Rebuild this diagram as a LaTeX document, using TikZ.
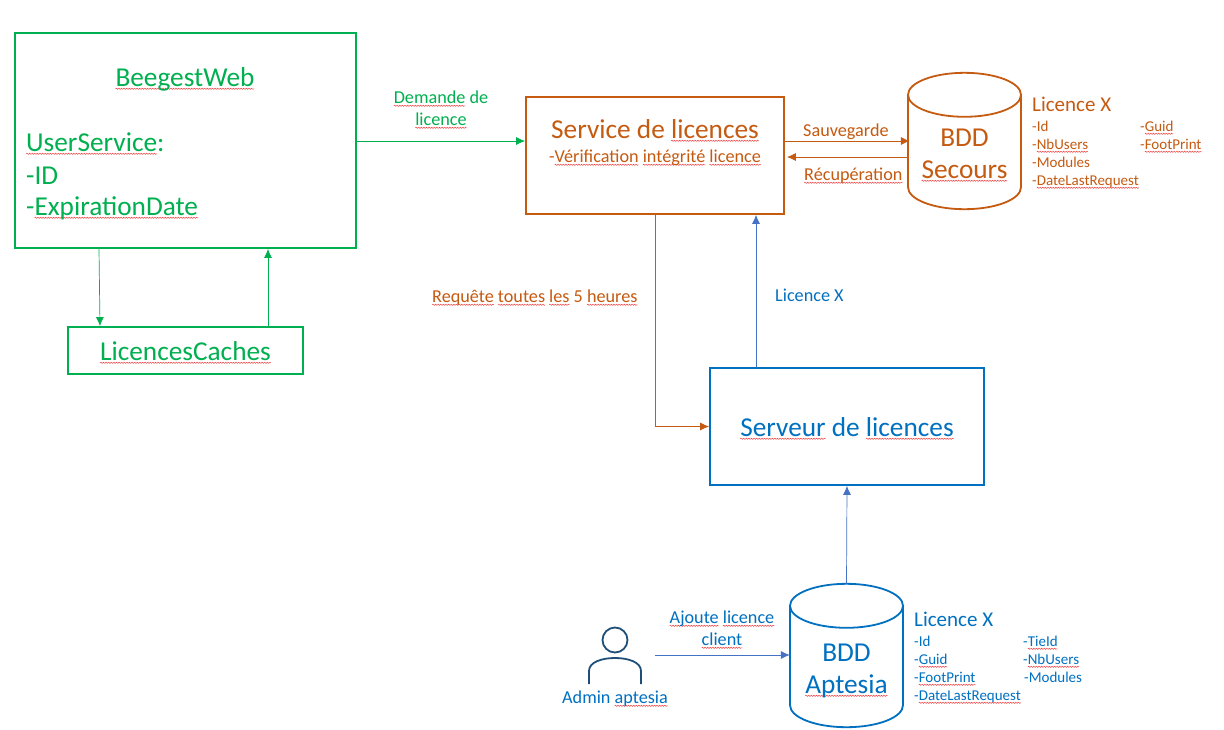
\documentclass[tikz,border=0pt]{standalone}
\usepackage{fontspec}
\setmainfont{Carlito}
\usetikzlibrary{shapes.geometric,arrows.meta,decorations.pathmorphing,calc}
\definecolor{cgreen}{HTML}{00B050}
\definecolor{corange}{HTML}{C55A11}
\definecolor{cblue}{HTML}{0070C0}
\definecolor{carrow}{HTML}{4472C4}
\definecolor{cdark}{HTML}{1F4E79}
\definecolor{cwave}{HTML}{F04040}
\newcommand{\sq}[1]{\leavevmode\setbox0=\hbox{#1}\rlap{\begin{tikzpicture}[overlay,x=1pt,y=1pt]\draw[cwave,line width=0.5pt,decorate,decoration={snake,amplitude=0.6pt,segment length=2.6pt}] (0,-2.8)--(\the\wd0,-2.8);\end{tikzpicture}}\box0}
\newcommand{\fsz}[1]{\fontsize{#1}{#1}\selectfont}
\newcommand{\dbshape}[2]{%
 \draw[dbline,#2] ($(#1.north)+(0,22)$) ellipse [x radius=56.5,y radius=22];
 \draw[dbline,#2] ($(#1.north)+(-56.5,22)$) -- ($(#1.south)+(-56.5,-22)$)
   .. controls ($(#1.south)+(-56.5,-9.85)$) and ($(#1.south)+(-31.2,0)$) .. (#1.south)
   .. controls ($(#1.south)+(31.2,0)$) and ($(#1.south)+(56.5,-9.85)$) .. ($(#1.south)+(56.5,-22)$)
   -- ($(#1.north)+(56.5,22)$);}
\tikzset{
 x=1pt,y=-1pt,
 box/.style={draw,rectangle,line width=1.8pt,inner sep=0pt},
 dbbox/.style={rectangle,inner sep=0pt,minimum width=113pt},
 dbline/.style={line width=1.8pt},
 txt/.style={inner sep=0pt,anchor=base west},
 ctxt/.style={inner sep=0pt,anchor=base},
 link/.style={line width=0.7pt,-{Latex[length=9pt,width=8pt]}},
 big/.style={font=\fsz{27.3}},
 mid/.style={font=\fsz{18.2}},
 head/.style={font=\fsz{21}},
 small/.style={font=\fsz{15}},
}
\begin{document}
\begin{tikzpicture}
\useasboundingbox[fill=white] (0,0) rectangle (1224,729);
% boxes
\node[box,draw=cgreen,minimum width=341pt,minimum height=215pt] (web) at (185.5,140.5) {};
\node[box,draw=cgreen,minimum width=235pt,minimum height=47pt] (cache) at (185.5,350.5) {};
\node[box,draw=corange,minimum width=258pt,minimum height=117pt] (svc) at (655,155.5) {};
\node[box,draw=cblue,minimum width=274pt,minimum height=117pt] (srv) at (847,426.5) {};
\node[dbbox,minimum height=136pt] (sec) at (964.5,141) {};
\node[dbbox,minimum height=143pt] (apt) at (846.5,655.5) {};
\dbshape{sec}{corange}
\dbshape{apt}{cblue}
% person
\node[draw=cdark,circle,line width=1.8pt,minimum size=25pt,inner sep=0pt] (head) at (615,640) {};
\draw[cdark,line width=1.8pt] (589,684) -- (589,671) .. controls (589,662) and (602,658) .. (615,658) .. controls (628,658) and (641,662) .. (641,671) -- (641,684);
\coordinate (adm) at (655,655);
% green text
\begin{scope}[cgreen]
\node[ctxt,big] (t1) at (185,86) {\sq{BeegestWeb}};
\node[txt,big] (t2) at (26,151) {\sq{UserService}:};
\node[txt,big] (t3) at (26,184) {-ID};
\node[txt,big] (t4) at (26,215) {-\sq{ExpirationDate}};
\node[ctxt,big] (t5) at (185.5,360) {\sq{LicencesCaches}};
\node[ctxt,mid] (t6) at (441,103) {\sq{Demande}\ de};
\node[ctxt,mid] (t8) at (441,125) {\sq{licence}};
\end{scope}
% orange text
\begin{scope}[corange]
\node[ctxt,big] (o1) at (655,138) {Service de \sq{licences}};
\node[ctxt,mid] (o2) at (655,162) {-\sq{Vérification}\ \sq{intégrité}\ \sq{licence}};
\node[txt,mid] (o3) at (803,136) {Sauvegarde};
\node[txt,mid] (o4) at (804,180) {\sq{Récupération}};
\node[ctxt,big] (o5) at (964.5,146) {BDD};
\node[ctxt,big] (o6) at (964.5,178) {\sq{Secours}};
\node[txt,head] (o7) at (1032,111) {Licence X};
\node[txt,small] (o8) at (1032,131) {-Id};
\node[txt,small] (o9) at (1032,149) {-\sq{NbUsers}};
\node[txt,small] (o10) at (1032,167) {-Modules};
\node[txt,small] (o11) at (1032,185) {-\sq{DateLastRequest}};
\node[txt,small] (o12) at (1140,131) {-\sq{Guid}};
\node[txt,small] (o13) at (1140,149) {-\sq{FootPrint}};
\node[txt,mid] (o14) at (432,302) {\sq{Requête}\ \sq{toutes}\ \sq{les}\ 5 \sq{heures}};
\end{scope}
% blue text
\begin{scope}[cblue]
\node[txt,mid] (b1) at (775,301) {Licence X};
\node[ctxt,big] (b2) at (847,436) {\sq{Serveur}\ de \sq{licences}};
\node[ctxt,big] (b3) at (846.5,661) {BDD};
\node[ctxt,big] (b4) at (846.5,693) {\sq{Aptesia}};
\node[txt,head] (b5) at (914,626) {Licence X};
\node[txt,small] (b6) at (914,646) {-Id};
\node[txt,small] (b7) at (914,664) {-\sq{Guid}};
\node[txt,small] (b8) at (914,682) {-\sq{FootPrint}};
\node[txt,small] (b9) at (914,700) {-\sq{DateLastRequest}};
\node[txt,small] (b10) at (1023,646) {-\sq{TieId}};
\node[txt,small] (b11) at (1023,664) {-\sq{NbUsers}};
\node[txt,small] (b12) at (1024,682) {-Modules};
\node[ctxt,mid] (b13) at (722,623) {\sq{Ajoute}\ \sq{licence}};
\node[ctxt,mid] (b14) at (722,645) {\sq{client}};
\node[ctxt,mid] (b15) at (615,703) {Admin \sq{aptesia}};
\end{scope}
% connectors
\draw[link,cgreen] (web.east |- 0,141) -- (svc.west |- 0,141);
\draw[link,cgreen] ([xshift=-86.5pt]web.south) -- ([xshift=-85.5pt]cache.north);
\draw[link,cgreen] ([xshift=82.5pt]cache.north) -- ([xshift=82.5pt]web.south);
\draw[link,corange] (svc.east |- 0,141) -- ([xshift=2pt]sec.west |- 0,141);
\draw[link,corange] (sec.west |- 0,157) -- ([xshift=2pt]svc.east |- 0,157);
\draw[link,corange] (svc.south) |- (srv.west);
\draw[link,carrow] (srv.north -| 756,0) -- (svc.south -| 756,0);
\draw[link,carrow] (apt.north) -- (srv.south);
\draw[link,carrow] (adm) -- (apt.west |- adm);
\end{tikzpicture}
\end{document}
